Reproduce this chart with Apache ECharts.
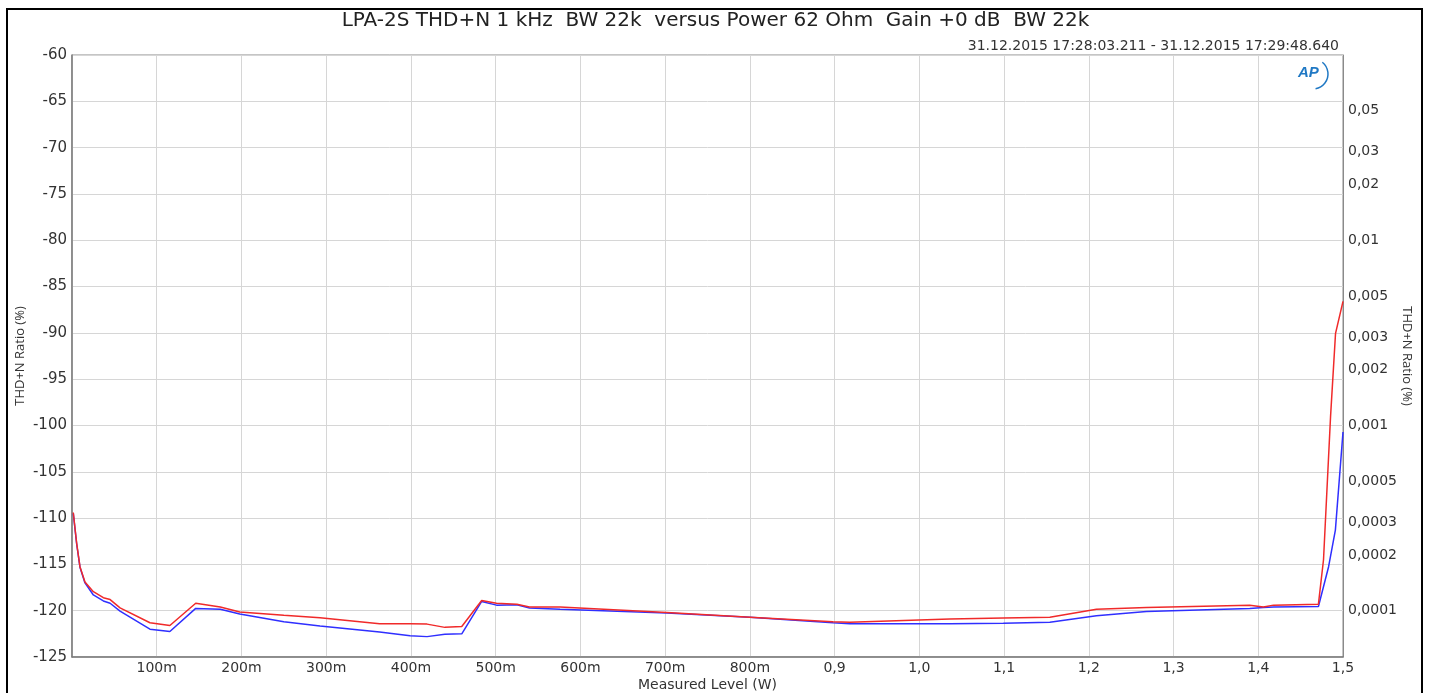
<!DOCTYPE html>
<html>
<head>
<meta charset="utf-8">
<title>LPA-2S THD+N versus Power</title>
<script src="https://cdn.jsdelivr.net/npm/echarts@6/dist/echarts.min.js"></script>
<style>
  html, body { margin: 0; padding: 0; background: #fff; }
  #chart { width: 1431px; height: 693px; }
</style>
</head>
<body>
<div id="chart"></div>
<script>
// measured level (W) and THD+N (dB)
var powerRed = [0.0015, 0.0055, 0.0094, 0.0153, 0.0252, 0.037, 0.045, 0.0567, 0.092, 0.1155,
  0.146, 0.175, 0.198, 0.25, 0.2927, 0.363, 0.399, 0.419, 0.44, 0.46,
  0.4835, 0.501, 0.525, 0.54, 0.576, 0.702, 0.80, 0.898, 0.918, 1.036,
  1.099, 1.154, 1.209, 1.268, 1.39, 1.406, 1.418, 1.471, 1.477, 1.4853, 1.4912, 1.5];
var thdRed = [-109.4, -112.7, -115.25, -116.9, -117.95, -118.6, -118.8, -119.7, -121.3, -121.6,
  -119.2, -119.6, -120.15, -120.5, -120.75, -121.4, -121.4, -121.45, -121.8, -121.7,
  -118.9, -119.2, -119.3, -119.6, -119.6, -120.2, -120.7, -121.2, -121.25, -120.9,
  -120.8, -120.7, -119.85, -119.65, -119.4, -119.6, -119.4, -119.3, -114.5, -99.05, -90.05, -86.6];

var powerBlue = [0.0015, 0.0055, 0.0094, 0.0153, 0.0252, 0.037, 0.045, 0.0567, 0.092, 0.1155,
  0.146, 0.175, 0.198, 0.25, 0.2927, 0.363, 0.399, 0.419, 0.44, 0.46,
  0.4835, 0.501, 0.525, 0.54, 0.576, 0.702, 0.80, 0.898, 0.918, 1.036,
  1.099, 1.154, 1.209, 1.268, 1.39, 1.406, 1.418, 1.471, 1.483, 1.491, 1.5];
var thdBlue = [-109.5, -112.8, -115.3, -117.0, -118.3, -118.95, -119.2, -120.05, -122.0, -122.25,
  -119.75, -119.85, -120.35, -121.2, -121.65, -122.3, -122.7, -122.8, -122.55, -122.5,
  -119.0, -119.4, -119.35, -119.7, -119.85, -120.25, -120.7, -121.3, -121.4, -121.4,
  -121.35, -121.25, -120.55, -120.1, -119.75, -119.65, -119.6, -119.55, -115.25, -111.3, -100.7];

// right axis tick labels (%)
var ratioTicks = ['0,05', '0,03', '0,02', '0,01', '0,005', '0,003', '0,002', '0,001',
  '0,0005', '0,0003', '0,0002', '0,0001'];

function pctToDb(s) {
  return 20 * Math.log10(parseFloat(s.replace(',', '.')) / 100);
}
function zip(xs, ys) {
  var out = [];
  for (var i = 0; i < xs.length; i++) out.push([xs[i], ys[i]]);
  return out;
}

var ratioDb = ratioTicks.map(pctToDb);

var chart = echarts.init(document.getElementById('chart'));
var option = {
  backgroundColor: '#fff',
  animation: false,
  title: [{
    text: 'LPA-2S THD+N 1 kHz  BW 22k  versus Power 62 Ohm  Gain +0 dB  BW 22k',
    left: 'center',
    top: 6,
    textStyle: { fontFamily: 'DejaVu Sans', fontSize: 20, fontWeight: 'normal', color: '#222' }
  }, {
    text: '31.12.2015 17:28:03.211 - 31.12.2015 17:29:48.640',
    right: 87,
    top: 34,
    textStyle: { fontFamily: 'DejaVu Sans', fontSize: 14, fontWeight: 'normal', color: '#333' }
  }],
  grid: {
    left: 72, right: 88, top: 55, bottom: 36,
    outerBoundsMode: 'none',
    show: true, borderColor: '#8a8a8a', borderWidth: 1
  },
  xAxis: {
    type: 'value',
    min: 0, max: 1.5, interval: 0.1,
    name: 'Measured Level (W)',
    nameLocation: 'middle',
    nameGap: 21,
    nameMoveOverlap: false,
    nameTextStyle: { fontFamily: 'DejaVu Sans', fontSize: 14, color: '#333' },
    axisLine: { lineStyle: { color: '#7a7a7a', width: 1.5 } },
    axisTick: { show: false },
    axisLabel: {
      fontFamily: 'DejaVu Sans', fontSize: 14, color: '#333', margin: 4,
      formatter: function (v) {
        if (v < 0.05) return '';
        if (v < 0.85) return Math.round(v * 1000) + 'm';
        return v.toFixed(1).replace('.', ',');
      }
    },
    splitLine: { lineStyle: { color: '#d6d6d6', width: 1 } }
  },
  yAxis: [{
    type: 'value',
    min: -125, max: -60, interval: 5,
    name: 'THD+N Ratio (%)',
    nameLocation: 'middle',
    nameGap: 45,
    nameMoveOverlap: false,
    nameTextStyle: { fontFamily: 'Open Sans', fontSize: 13, color: '#333' },
    axisLine: { show: true, lineStyle: { color: '#7a7a7a', width: 1.5 } },
    axisTick: { show: false },
    axisLabel: { fontFamily: 'DejaVu Sans', fontSize: 15, color: '#333', margin: 5 },
    splitLine: { lineStyle: { color: '#d6d6d6', width: 1 } }
  }, {
    type: 'value',
    position: 'right',
    min: -125, max: -60,
    name: 'THD+N Ratio (%)',
    nameLocation: 'middle',
    nameGap: 57,
    nameRotate: -90,
    nameMoveOverlap: false,
    nameTextStyle: { fontFamily: 'Open Sans', fontSize: 13, color: '#333' },
    axisLine: { show: true, lineStyle: { color: '#8a8a8a', width: 1 } },
    axisTick: { show: false },
    splitLine: { show: false },
    axisLabel: {
      customValues: ratioDb,
      fontFamily: 'DejaVu Sans', fontSize: 14, color: '#333', margin: 5,
      formatter: function (v) {
        for (var i = 0; i < ratioDb.length; i++) {
          if (Math.abs(ratioDb[i] - v) < 0.01) return ratioTicks[i];
        }
        return '';
      }
    }
  }],
  graphic: [{
    type: 'rect',
    shape: { x: 7, y: 9, width: 1415, height: 700 },
    style: { fill: 'none', stroke: '#000', lineWidth: 2 },
    silent: true
  }, {
    type: 'text',
    left: 1298, top: 65,
    style: { text: 'AP', fill: '#1f78c4', font: 'italic bold 15px Liberation Sans' }
  }, {
    type: 'arc',
    shape: { cx: 1313, cy: 74, r: 15, startAngle: -0.9, endAngle: 1.4 },
    style: { stroke: '#1f78c4', lineWidth: 1.5, fill: 'none' }
  }],
  series: [{
    name: 'Ch2',
    type: 'line',
    data: zip(powerBlue, thdBlue),
    showSymbol: false,
    lineStyle: { color: '#2f2fff', width: 1.5 },
    itemStyle: { color: '#2f2fff' }
  }, {
    name: 'Ch1',
    type: 'line',
    data: zip(powerRed, thdRed),
    showSymbol: false,
    lineStyle: { color: '#f02a2a', width: 1.5 },
    itemStyle: { color: '#f02a2a' }
  }]
};
chart.setOption(option);
</script>
</body>
</html>
